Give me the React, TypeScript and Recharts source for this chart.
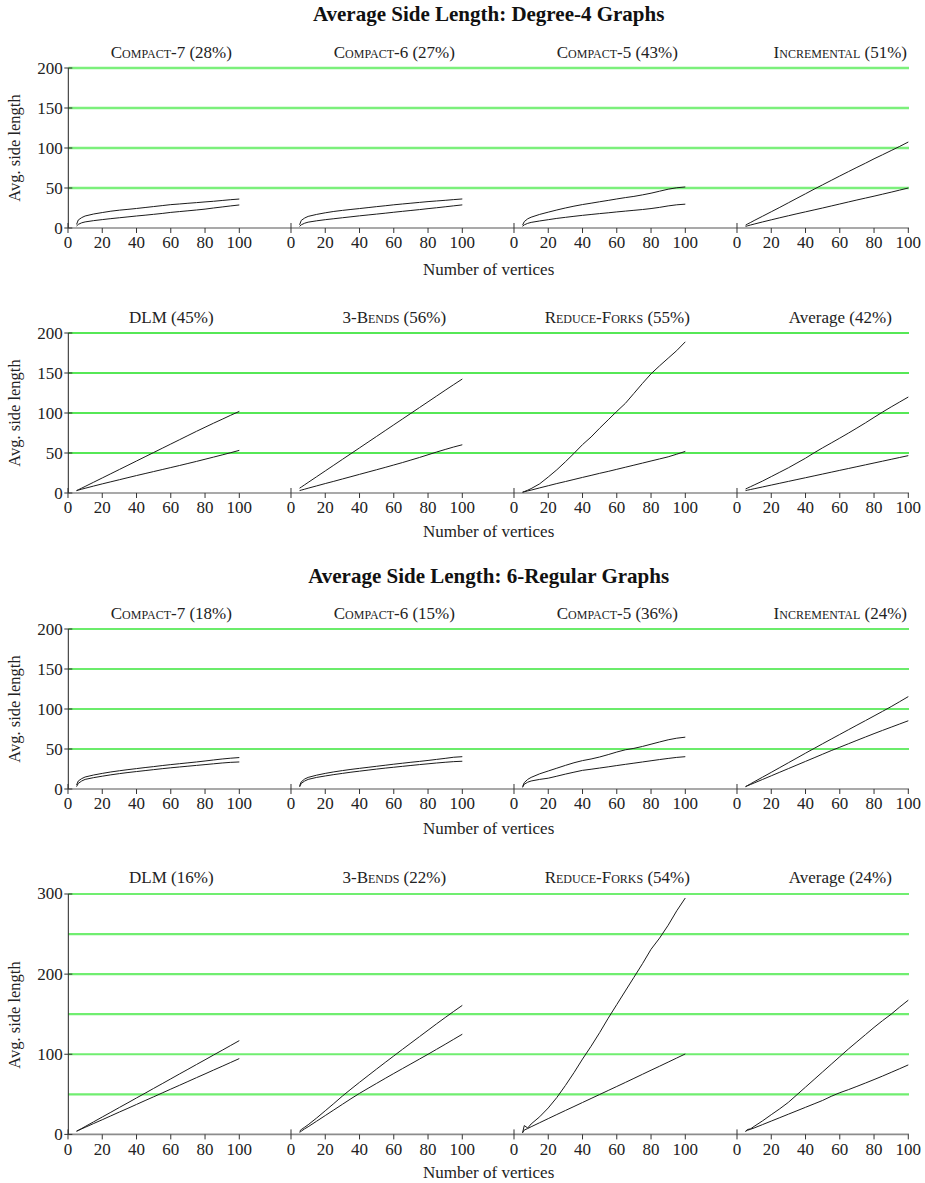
import React from 'react';
import { LineChart, Line, XAxis, YAxis, ReferenceLine } from 'recharts';

const FONT = '"Liberation Serif", "Times New Roman", Times, serif';

// Number of vertices (x values)
const N = [5, 6, 8, 10, 15, 20, 25, 30, 35, 40, 45, 50, 55, 60, 65, 70, 75, 80, 85, 90, 95, 100];
const X_TICKS = [0, 20, 40, 60, 80, 100];

// ---------- Degree-4 graphs ----------
const d4Compact7Upper = [4.5, 10, 13, 15, 17.5, 19.3, 21, 22.3, 23.3, 24.4, 25.6, 26.8, 28, 29.2, 30, 30.9, 31.7, 32.6, 33.4, 34.4, 35.4, 36.2];
const d4Compact7Lower = [2.5, 4.5, 6.5, 7.6, 9.2, 10.5, 11.7, 12.8, 13.9, 15, 16, 17.1, 18.2, 19.5, 20.5, 21.5, 22.5, 23.6, 25, 26.3, 27.6, 28.8];
const d4Compact6Upper = [4, 9.5, 12.5, 14.5, 17, 19, 20.7, 22, 23.2, 24.3, 25.5, 26.7, 27.8, 29, 30, 31, 32, 33, 33.8, 34.6, 35.5, 36.3];
const d4Compact6Lower = [2, 4, 6, 7.3, 9, 10.4, 11.6, 12.8, 14, 15.2, 16.3, 17.4, 18.5, 19.7, 20.8, 21.9, 23, 24.2, 25.3, 26.5, 27.7, 28.9];
const d4Compact5Upper = [3.5, 8, 11.5, 13.5, 17, 19.8, 22.5, 25, 27.3, 29.3, 31, 32.8, 34.5, 36.3, 38, 39.5, 41.4, 43.5, 46, 48.5, 50.3, 51.3];
const d4Compact5Lower = [2, 4, 5.8, 7, 8.8, 10.4, 12, 13.3, 14.6, 15.8, 16.9, 18, 19, 20.1, 21.1, 22.1, 23.1, 24.3, 25.8, 27.6, 29, 29.8];
const d4IncrementalUpper = [3.5, 4.8, 7, 9.3, 14.8, 20.3, 25.8, 31.5, 37.2, 42.8, 48.5, 54, 59.5, 65, 70.4, 75.8, 81, 86.5, 91.6, 96.8, 102, 107.5];
const d4IncrementalLower = [2, 2.6, 3.8, 4.9, 7.6, 10.2, 12.8, 15.3, 17.8, 20.2, 22.6, 25, 27.5, 30, 32.5, 35, 37.4, 39.8, 42.3, 44.8, 47.4, 50];
const d4DlmUpper = [3, 4, 6.1, 8.2, 13.5, 18.8, 24.1, 29.4, 34.7, 40, 45.3, 50.6, 55.9, 61.2, 66.5, 71.8, 77.1, 82.2, 87.3, 92.2, 97.2, 102];
const d4DlmLower = [3, 3.6, 4.8, 5.9, 8.7, 11.4, 14, 16.6, 19.2, 21.8, 24.3, 26.8, 29.3, 31.8, 34.3, 36.9, 39.5, 42.2, 44.9, 47.6, 50.4, 53.3];
const d4Bends3Upper = [6, 7.4, 10.3, 13.2, 20.4, 27.6, 34.8, 42, 49.2, 56.4, 63.6, 70.8, 78, 85.2, 92.4, 99.6, 106.8, 114, 121.2, 128.4, 135.5, 142.5];
const d4Bends3Lower = [3, 3.6, 4.8, 6, 8.9, 11.8, 14.6, 17.5, 20.4, 23.3, 26.2, 29.1, 32, 35, 38, 41.2, 44.4, 47.8, 51.2, 54.4, 57.5, 60.3];
const d4ReduceForksUpper = [1, 1.8, 3.5, 5.5, 11.5, 20, 29, 39, 49.5, 60.5, 70, 81, 91.5, 102, 112, 124.5, 137, 149, 159, 168.5, 178, 189];
const d4ReduceForksLower = [1, 1.5, 2.6, 3.6, 6.4, 9.1, 11.8, 14.3, 16.9, 19.5, 22, 24.6, 27, 29.6, 32.2, 34.8, 37.4, 40, 42.6, 45.2, 48.5, 52];
const d4AverageUpper = [5, 6, 8, 10, 15, 20.5, 26, 31.5, 37.5, 43.5, 50.2, 56.5, 62.5, 68.6, 74.8, 81.2, 87.7, 94.5, 101.2, 107.6, 113.8, 120];
const d4AverageLower = [3, 3.5, 4.4, 5.3, 7.6, 9.9, 12.2, 14.5, 16.8, 19.1, 21.4, 23.7, 26, 28.3, 30.6, 32.9, 35.2, 37.5, 39.8, 42.1, 44.4, 46.7];

// ---------- 6-regular graphs ----------
const r6Compact7Upper = [5, 10, 13, 15, 17.5, 19.5, 21.3, 22.8, 24.2, 25.5, 26.8, 28, 29.3, 30.5, 31.6, 32.7, 33.8, 35, 36.3, 37.5, 38.5, 39.3];
const r6Compact7Lower = [3, 7, 10, 12, 14.2, 16, 17.7, 19.2, 20.6, 21.8, 23, 24.2, 25.4, 26.5, 27.5, 28.5, 29.5, 30.5, 31.5, 32.5, 33.3, 33.8];
const r6Compact6Upper = [4, 9, 12.5, 14.5, 17.3, 19.5, 21.4, 23, 24.5, 25.8, 27.1, 28.4, 29.7, 31, 32.2, 33.4, 34.5, 35.7, 37, 38.3, 39.7, 40.4];
const r6Compact6Lower = [2.5, 7, 10, 12, 14.5, 16.3, 18, 19.5, 21, 22.3, 23.6, 24.9, 26.1, 27.2, 28.3, 29.4, 30.5, 31.5, 32.5, 33.4, 34.2, 34.7];
const r6Compact5Upper = [3, 8, 12, 14.5, 19, 22.5, 26, 29.5, 32.8, 35.5, 37.5, 40, 43, 46.2, 49, 50.8, 53.2, 56, 58.8, 61.5, 63.5, 64.8];
const r6Compact5Lower = [2, 6, 8.5, 10, 12, 13.5, 16, 18.6, 21, 23.3, 24.7, 26.2, 27.7, 29.3, 30.8, 32.3, 33.8, 35.3, 36.8, 38.2, 39.5, 40.4];
const r6IncrementalUpper = [3, 4.2, 6.6, 9, 14.9, 20.8, 26.8, 32.8, 38.8, 44.8, 50.7, 56.6, 62.4, 68.2, 74, 79.8, 85.5, 91.3, 97.1, 103, 109.2, 115.5];
const r6IncrementalLower = [3, 3.9, 5.7, 7.5, 12, 16.5, 21, 25.5, 30, 34.5, 39, 43.5, 48, 52.2, 56.5, 60.8, 65, 69.2, 73.3, 77.3, 81.3, 85.3];
const r6DlmUpper = [4, 5, 7.4, 9.8, 15.7, 21.7, 27.6, 33.6, 39.5, 45.5, 51.4, 57.4, 63.3, 69.3, 75.3, 81.2, 87.2, 93.1, 99.1, 105, 111, 117];
const r6DlmLower = [4, 5, 6.9, 8.8, 13.6, 18.3, 23.1, 27.9, 32.6, 37.4, 42.2, 46.9, 51.7, 56.5, 61.2, 66, 70.8, 75.5, 80.3, 85, 89.8, 94.6];
const r6Bends3Upper = [4, 6, 9, 12, 20.5, 29.5, 38.5, 47.8, 56.5, 65, 73.3, 81.6, 89.8, 97.9, 106, 114, 122, 130, 138, 145.8, 153.5, 161];
const r6Bends3Lower = [2.5, 4, 7, 9.5, 16.5, 23.5, 30.5, 37.5, 44.5, 51.2, 57.5, 63.7, 69.9, 76, 82, 88, 94, 100, 106.2, 112.4, 118.7, 125];
const r6ReduceForksUpper = [2, 11, 8, 13, 22, 33, 46, 61, 77, 94, 110, 127, 145, 162, 179, 196, 213, 231, 245, 261, 279, 295];
const r6ReduceForksLower = [2, 5.5, 7.3, 9.5, 14.6, 19.7, 24.8, 29.8, 34.8, 39.8, 44.8, 49.8, 54.8, 59.8, 64.8, 69.9, 75, 80.1, 85.1, 90.2, 95.3, 100.4];
const r6AverageUpper = [3.5, 6, 7, 10, 17, 24.6, 32, 40, 49.5, 59, 68.5, 78, 87.5, 97, 106.5, 115.5, 124.5, 133.5, 142, 150, 159, 167.5];
const r6AverageLower = [4, 5, 6.5, 8, 12.3, 16.6, 20.9, 25.2, 29.5, 33.8, 38.1, 42.4, 47.5, 52, 55.8, 59.9, 64.1, 68.4, 72.8, 77.4, 82, 86.7];

// ---------- titles / tick labels ----------
const MAIN_TITLES = ['Average Side Length: Degree-4 Graphs', 'Average Side Length: 6-Regular Graphs'];
const ROW1_TITLES = ['Compact-7 (28%)', 'Compact-6 (27%)', 'Compact-5 (43%)', 'Incremental (51%)'];
const ROW2_TITLES = ['DLM (45%)', '3-Bends (56%)', 'Reduce-Forks (55%)', 'Average (42%)'];
const ROW3_TITLES = ['Compact-7 (18%)', 'Compact-6 (15%)', 'Compact-5 (36%)', 'Incremental (24%)'];
const ROW4_TITLES = ['DLM (16%)', '3-Bends (22%)', 'Reduce-Forks (54%)', 'Average (24%)'];
const Y_TICKS_200 = [0, 50, 100, 150, 200];
const Y_TICKS_300 = [0, 100, 200, 300];
const GRID_200 = [50, 100, 150, 200];
const GRID_300 = [50, 100, 150, 200, 250, 300];
const X_LABEL = 'Number of vertices';
const Y_LABEL = 'Avg. side length';

const build = (upper: number[], lower: number[]) => N.map((n, i) => ({ n, upper: upper[i], lower: lower[i] }));

const ROWS = [
  {
    top: 67.7, h: 160, max: 200, yTicks: Y_TICKS_200, grid: GRID_200, gridColor: '#7cf07c', gridW: 2.4,
    titleY: 51.7, xLabelY: 269, titles: ROW1_TITLES,
    panels: [build(d4Compact7Upper, d4Compact7Lower), build(d4Compact6Upper, d4Compact6Lower), build(d4Compact5Upper, d4Compact5Lower), build(d4IncrementalUpper, d4IncrementalLower)],
  },
  {
    top: 333.3, h: 160, max: 200, yTicks: Y_TICKS_200, grid: GRID_200, gridColor: '#1ee01e', gridW: 1.3,
    titleY: 316.7, xLabelY: 531, titles: ROW2_TITLES,
    panels: [build(d4DlmUpper, d4DlmLower), build(d4Bends3Upper, d4Bends3Lower), build(d4ReduceForksUpper, d4ReduceForksLower), build(d4AverageUpper, d4AverageLower)],
  },
  {
    top: 629.3, h: 160, max: 200, yTicks: Y_TICKS_200, grid: GRID_200, gridColor: '#3ae63a', gridW: 1.6,
    titleY: 612.7, xLabelY: 828, titles: ROW3_TITLES,
    panels: [build(r6Compact7Upper, r6Compact7Lower), build(r6Compact6Upper, r6Compact6Lower), build(r6Compact5Upper, r6Compact5Lower), build(r6IncrementalUpper, r6IncrementalLower)],
  },
  {
    top: 894.3, h: 240.4, max: 300, yTicks: Y_TICKS_300, grid: GRID_300, gridColor: '#70ee70', gridW: 2.2,
    titleY: 877.3, xLabelY: 1172, titles: ROW4_TITLES,
    panels: [build(r6DlmUpper, r6DlmLower), build(r6Bends3Upper, r6Bends3Lower), build(r6ReduceForksUpper, r6ReduceForksLower), build(r6AverageUpper, r6AverageLower)],
  },
];

const MAIN_TITLE_Y = [14, 575.5];

const PLOT_LEFT = 68.3;
const PLOT_RIGHT = 909;
const PANEL_STEP = 223;
const PANEL_W = 171.3;
const MT = 10;
const XH = 34;
const PAD = 12;

const XTick = (props: any) => {
  const { x, y, payload } = props;
  return (
    <g>
      <line x1={x} x2={x} y1={payload.value === 0 ? y - 5 : y} y2={y + 5} stroke="#333" strokeWidth={1} />
      <text x={x} y={y + 20.5} textAnchor="middle" fontSize={17} fontFamily={FONT} fill="#222">{payload.value}</text>
    </g>
  );
};

const YTick = (props: any) => {
  const { x, y, payload } = props;
  return (
    <g>
      <line x1={x - 4} x2={x + 4} y1={y} y2={y} stroke="#333" strokeWidth={1} />
      <text x={x - 5.5} y={y + 5.5} textAnchor="end" fontSize={17} fontFamily={FONT} fill="#222">{payload.value}</text>
    </g>
  );
};

const smallCaps = (t: string) => !(t.startsWith('Average') || t.startsWith('DLM'));

const abs = (extra: React.CSSProperties): React.CSSProperties => ({
  position: 'absolute', fontFamily: FONT, color: '#222', whiteSpace: 'nowrap', lineHeight: 1, ...extra,
});

export default function App() {
  return (
    <div style={{ position: 'absolute', left: 0, top: 0, width: 925, height: 1183, background: '#fff', overflow: 'hidden' }}>
      {MAIN_TITLES.map((t, i) => (
        <div key={t} style={abs({ left: (PLOT_LEFT + PLOT_RIGHT) / 2, top: MAIN_TITLE_Y[i], transform: 'translate(-50%, -50%)', fontWeight: 'bold', fontSize: 21, color: '#111' })}>{t}</div>
      ))}
      {ROWS.map((row, ri) => {
        const chartH = MT + row.h + XH;
        const chartTop = row.top - MT;
        const frame = [{ x: 0, y: 0 }, { x: 1, y: row.max }];
        return (
          <React.Fragment key={ri}>
            <div style={{ position: 'absolute', left: 0, top: chartTop }}>
              <LineChart width={925} height={chartH} data={frame} margin={{ top: MT, right: 925 - PLOT_RIGHT, bottom: 0, left: 0 }}>
                <XAxis dataKey="x" type="number" domain={[0, 1]} height={XH} tick={false} tickLine={false} axisLine={{ stroke: '#8c8c8c', strokeWidth: 1.6 }} />
                <YAxis type="number" domain={[0, row.max]} ticks={row.yTicks} width={PLOT_LEFT} tickSize={0} tickMargin={0} tickLine={false} axisLine={{ stroke: '#222', strokeWidth: 1 }} tick={<YTick />} interval={0} allowDataOverflow />
                {row.grid.map((g) => (
                  <ReferenceLine key={g} y={g} stroke={row.gridColor} strokeWidth={row.gridW} />
                ))}
                <Line dataKey="y" stroke="none" dot={false} activeDot={false} isAnimationActive={false} />
              </LineChart>
            </div>
            {row.panels.map((data, pi) => {
              const left = PLOT_LEFT + PANEL_STEP * pi;
              return (
                <div key={pi} style={{ position: 'absolute', left: left - PAD, top: chartTop }}>
                  <LineChart width={PANEL_W + 2 * PAD} height={chartH} data={data} margin={{ top: MT, right: PAD, bottom: 0, left: PAD }}>
                    <XAxis dataKey="n" type="number" domain={[0, 100]} ticks={X_TICKS} height={XH} tickSize={0} tickMargin={0} tickLine={false} axisLine={false} tick={<XTick />} interval={0} />
                    <YAxis hide type="number" domain={[0, row.max]} />
                    <Line type="linear" dataKey="upper" stroke="#1a1a1a" strokeWidth={1} dot={false} isAnimationActive={false} />
                    <Line type="linear" dataKey="lower" stroke="#1a1a1a" strokeWidth={1} dot={false} isAnimationActive={false} />
                  </LineChart>
                </div>
              );
            })}
            {row.titles.map((t, pi) => (
              <div key={t} style={abs({ left: PLOT_LEFT + PANEL_STEP * pi + 103, top: row.titleY, transform: 'translate(-50%, -50%)', fontSize: 17, fontVariant: smallCaps(t) ? 'small-caps' : 'normal' })}>{t}</div>
            ))}
            <div style={abs({ left: (PLOT_LEFT + PLOT_RIGHT) / 2, top: row.xLabelY, transform: 'translate(-50%, -50%)', fontSize: 17 })}>{X_LABEL}</div>
            <div style={abs({ left: 15, top: row.top + row.h / 2, transform: 'translate(-50%, -50%) rotate(-90deg)', fontSize: 16.5 })}>{Y_LABEL}</div>
          </React.Fragment>
        );
      })}
    </div>
  );
}
